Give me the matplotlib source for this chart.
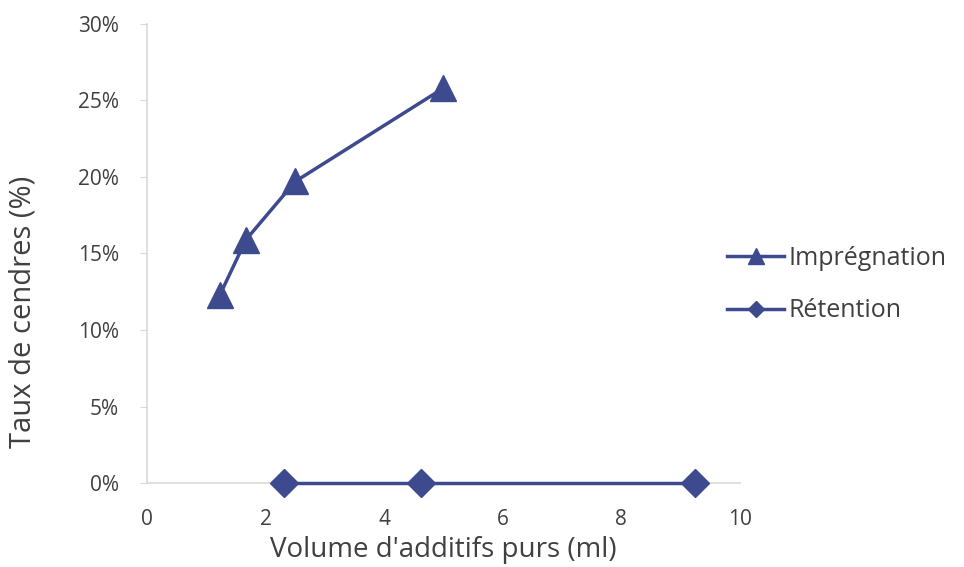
import matplotlib.pyplot as plt
from matplotlib.ticker import FuncFormatter

plt.rcParams['font.family'] = ['Open Sans', 'DejaVu Sans']

# volume d'additifs (ml) et taux de cendres (%)
impr_x = [1.23, 1.67, 2.5, 5.0]
impr_y = [12.3, 15.9, 19.7, 25.8]
ret_x = [2.31, 4.62, 9.24]
ret_y = [0.0, 0.0, 0.0]

color = '#3d4a8e'
grey = '#d9d9d9'
txt = '#404040'

fig = plt.figure(figsize=(9.64, 5.67), dpi=100)
ax = fig.add_axes([0.1525, 0.148, 0.615, 0.81])

ax.plot(impr_x, impr_y, color=color, lw=2.5, marker='^', ms=19, label='Imprégnation', clip_on=False, zorder=3)
ax.plot(ret_x, ret_y, color=color, lw=2.5, marker='D', ms=14, label='Rétention', clip_on=False, zorder=3)

ax.set_xlim(0, 10)
ax.set_ylim(0, 30)
ax.set_xticks(range(0, 11, 2))
ax.set_yticks(range(0, 31, 5))
ax.yaxis.set_major_formatter(FuncFormatter(lambda v, p: f'{v:.0f}%'))

for s in ['top', 'right']:
    ax.spines[s].set_visible(False)
for s in ['left', 'bottom']:
    ax.spines[s].set_color(grey)
    ax.spines[s].set_linewidth(1.2)
ax.tick_params(axis='both', colors=grey, labelcolor=txt, labelsize=15, length=5)
ax.tick_params(axis='x', length=0, pad=19)
ax.tick_params(axis='y', pad=15)

ax.set_xlabel("Volume d'additifs purs (ml)", fontsize=20, color=txt, va='center')
ax.set_ylabel('Taux de cendres (%)', fontsize=21, color=txt, va='center')
ax.xaxis.set_label_coords(0.5, -0.146)
ax.yaxis.set_label_coords(-0.21, 0.373)

ax.legend(loc='center left', bbox_to_anchor=(0.94, 0.432), frameon=False, fontsize=18,
          labelcolor=txt, handlelength=2.3, handletextpad=0.15, labelspacing=1.1, markerscale=0.6)

fig.savefig('out.png', dpi=100)
